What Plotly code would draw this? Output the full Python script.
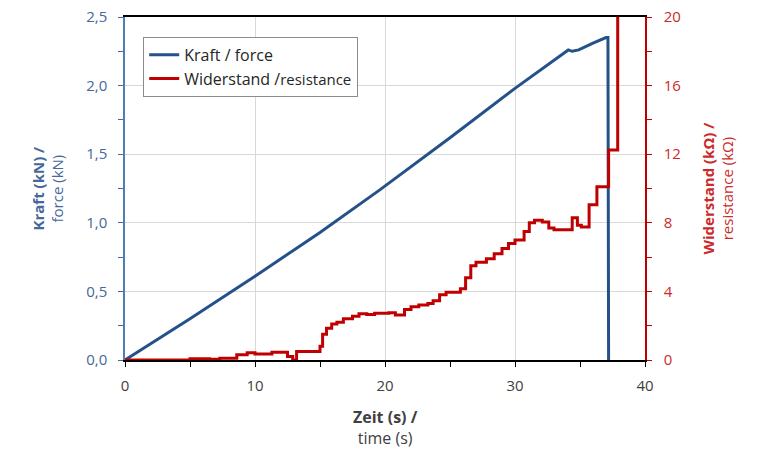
import plotly.graph_objects as go

# Force (kN) over time (s)
force_t = [0, 5, 10, 15, 19.6, 25, 30, 34.1, 34.4, 34.9, 36.0, 37.0, 37.15, 37.2]
force_kn = [0, 0.30, 0.61, 0.93, 1.24, 1.62, 1.98, 2.26, 2.25, 2.26, 2.31, 2.35, 2.35, 0]

# Resistance (kOhm) over time (s), step-like
res_t = [0, 5.0, 6.5, 7.3, 8.6, 9.4, 10.0, 11.3, 12.5, 12.9, 13.2, 15.0, 15.2, 15.5,
         15.9, 16.3, 16.8, 17.5, 18.0, 18.6, 19.2, 20.3, 20.8, 21.5, 22.0, 22.6,
         23.3, 23.7, 24.2, 24.7, 25.8, 26.2, 26.6, 27.0, 27.8, 28.4, 29.0, 29.5,
         30.0, 30.7, 31.1, 31.5, 32.1, 32.6, 33.0, 34.4, 34.8, 35.1, 35.7, 36.3,
         37.2, 37.9]
res_kohm = [0, 0.08, 0.05, 0.1, 0.3, 0.43, 0.35, 0.45, 0.2, 0.0, 0.49, 0.8, 1.5, 1.85,
            2.1, 2.2, 2.4, 2.55, 2.7, 2.65, 2.72, 2.75, 2.62, 2.95, 3.1, 3.2,
            3.3, 3.45, 3.8, 3.95, 4.15, 4.8, 5.5, 5.7, 5.9, 6.2, 6.5, 6.8,
            7.0, 7.5, 8.0, 8.15, 8.05, 7.7, 7.6, 8.3, 7.85, 7.75, 9.05, 10.1,
            12.25, 30]

x_ticks = [0, 10, 20, 30, 40]
y_ticks = [0, 0.5, 1.0, 1.5, 2.0, 2.5]
y2_ticks = [0, 4, 8, 12, 16, 20]

BLUE = "#245189"
RED = "#C00000"
BLUE_TXT = "#46689A"
RED_TXT = "#CC2A2A"
FONT = "Open Sans"

fig = go.Figure()
fig.add_trace(go.Scatter(x=force_t, y=force_kn, mode="lines", name="Kraft / force",
                         line=dict(color=BLUE, width=3), yaxis="y"))
fig.add_trace(go.Scatter(x=res_t, y=res_kohm, mode="lines", line_shape="hv",
                         name="Widerstand /<span style='font-size:15px'>resistance</span>",
                         line=dict(color=RED, width=3), yaxis="y2"))

fig.update_layout(
    width=757, height=450,
    margin=dict(l=125, r=112, t=17, b=90, autoexpand=False),
    paper_bgcolor="white", plot_bgcolor="white",
    separators=",.",
    font=dict(family=FONT, size=15, color="#404040"),
    showlegend=True,
    legend=dict(x=0.035, y=0.942, xanchor="left", yanchor="top",
                bordercolor="#8C8C8C", borderwidth=1, bgcolor="white",
                font=dict(family=FONT, size=16, color="#262626"),
                tracegroupgap=0, itemwidth=30),
    xaxis=dict(range=[0, 40], tickvals=x_ticks, ticks="outside", ticklen=5,
               tickcolor="black", showline=True, linecolor="black", linewidth=1.5,
               mirror=True, showgrid=True, gridcolor="#D9D9D9", gridwidth=1,
               zeroline=False, automargin=False, ticklabelstandoff=6,
               tickfont=dict(size=15, color="#404040"),
               minor=dict(dtick=5, ticks="outside", ticklen=5, tickcolor="black", showgrid=False)),
    yaxis=dict(range=[0, 2.5], tickvals=y_ticks, tickformat=".1f", ticks="outside",
               ticklen=5, tickcolor=BLUE_TXT, showline=True, linecolor="#4F7DB5",
               linewidth=1.5, showgrid=True, gridcolor="#D9D9D9", gridwidth=1,
               zeroline=False, automargin=False, ticklabelstandoff=8,
               tickfont=dict(size=15, color=BLUE_TXT),
               minor=dict(dtick=0.25, ticks="outside", ticklen=5, tickcolor=BLUE_TXT, showgrid=False)),
    yaxis2=dict(range=[0, 20], tickvals=y2_ticks, overlaying="y", side="right",
                ticks="outside", ticklen=5, tickcolor=RED, showline=True,
                linecolor=RED, linewidth=1.5, showgrid=False, zeroline=False,
                automargin=False, ticklabelstandoff=9,
                tickfont=dict(size=15, color=RED_TXT),
                minor=dict(dtick=2, ticks="outside", ticklen=5, tickcolor=RED, showgrid=False)),
)

fig.add_annotation(text="<b>Kraft (kN) /</b><br>force (kN)", xref="paper", yref="paper",
                   x=0, y=0.5, xanchor="center", yanchor="middle", xshift=-78,
                   textangle=-90, showarrow=False,
                   font=dict(family=FONT, size=15, color=BLUE_TXT))
fig.add_annotation(text="<b>Widerstand (kΩ) /</b><br>resistance (kΩ)", xref="paper", yref="paper",
                   x=1, y=0.5, xanchor="center", yanchor="middle", xshift=72,
                   textangle=-90, showarrow=False,
                   font=dict(family=FONT, size=15, color=RED_TXT))
fig.add_annotation(text="<b>Zeit (s) /</b><br>time (s)", xref="paper", yref="paper",
                   x=0.5, y=0, xanchor="center", yanchor="top", yshift=-44,
                   showarrow=False, font=dict(family=FONT, size=16, color="#404040"))

fig.write_html("out.html")
